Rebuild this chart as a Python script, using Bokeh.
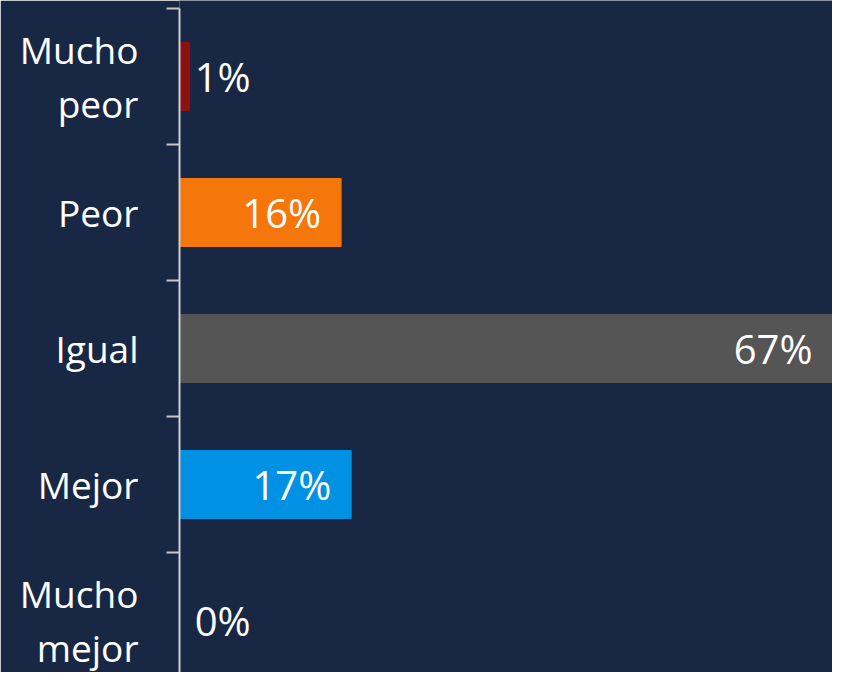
from bokeh.plotting import figure
from bokeh.models import Range1d, FixedTicker, ColumnDataSource, LinearAxis
from bokeh.embed import file_html
from bokeh.resources import INLINE
from bokeh.core.properties import value

categories = ["Mucho\npeor", "Peor", "Igual", "Mejor", "Mucho\nmejor"]
values = [1, 16, 67, 17, 0]
labels = ["1%", "16%", "67%", "17%", "0%"]
colors = ["#8e1111", "#f5760a", "#555555", "#0091e4", "#0091e4"]

BG = "#172744"
FONT = "Open Sans"
W, H = 832, 672
LEFT = 179
TOP = 8
BAND = 136
PX_PER = 10.1

x_end = (W - LEFT) / PX_PER
y_top = -TOP / BAND
y_bottom = (H - TOP) / BAND
centers = [i + 0.5 for i in range(len(categories))]

p = figure(width=W, height=H,
           x_range=Range1d(0, x_end), y_range=Range1d(y_bottom, y_top),
           output_backend="svg", toolbar_location=None,
           x_axis_location=None, y_axis_location=None,
           min_border_left=LEFT, min_border_right=0,
           min_border_top=0, min_border_bottom=0,
           background_fill_color=BG, border_fill_color=BG,
           outline_line_color=None)
p.grid.visible = False

src = ColumnDataSource(dict(y=centers, v=values, c=colors, t=labels))
p.hbar(y="y", left=0, right="v", height=0.5, fill_color="c", line_color="c", source=src)

inside = [i for i, v in enumerate(values) if v >= 5]
outside = [i for i, v in enumerate(values) if v < 5]
src_in = ColumnDataSource(dict(x=[min(values[i], x_end) for i in inside], y=[centers[i] for i in inside],
                               t=[labels[i] for i in inside]))
src_out = ColumnDataSource(dict(x=[max(values[i], 1.5) for i in outside], y=[centers[i] for i in outside],
                                t=[labels[i] for i in outside]))
p.text(x="x", y="y", text="t", source=src_in, text_align="right", text_baseline="middle",
       x_offset=-20, text_color="white", text_font=value(FONT), text_font_size="40px")
p.text(x="x", y="y", text="t", source=src_out, text_align="left", text_baseline="middle",
       x_offset=0, text_color="white", text_font=value(FONT), text_font_size="40px")

ax = LinearAxis(ticker=FixedTicker(ticks=centers, minor_ticks=[0, 1, 2, 3, 4, 5]),
                major_label_overrides={c: lab for c, lab in zip(centers, categories)},
                bounds=(0, 5))
ax.major_tick_out = 0
ax.major_tick_in = 0
ax.minor_tick_out = 13
ax.minor_tick_in = 0
ax.minor_tick_line_color = "#c8c8c8"
ax.minor_tick_line_width = 2
ax.axis_line_color = "#d0d0d0"
ax.axis_line_width = 2
ax.major_label_standoff = 28
ax.major_label_text_color = "white"
ax.major_label_text_font = FONT
ax.major_label_text_font_size = "37px"
ax.major_label_text_line_height = 1.05
p.add_layout(ax, "left")

html = file_html(p, INLINE)
html = html.replace("<body>", '<body style="background-color:%s;">' % BG, 1)
open("out.html", "w").write(html)
